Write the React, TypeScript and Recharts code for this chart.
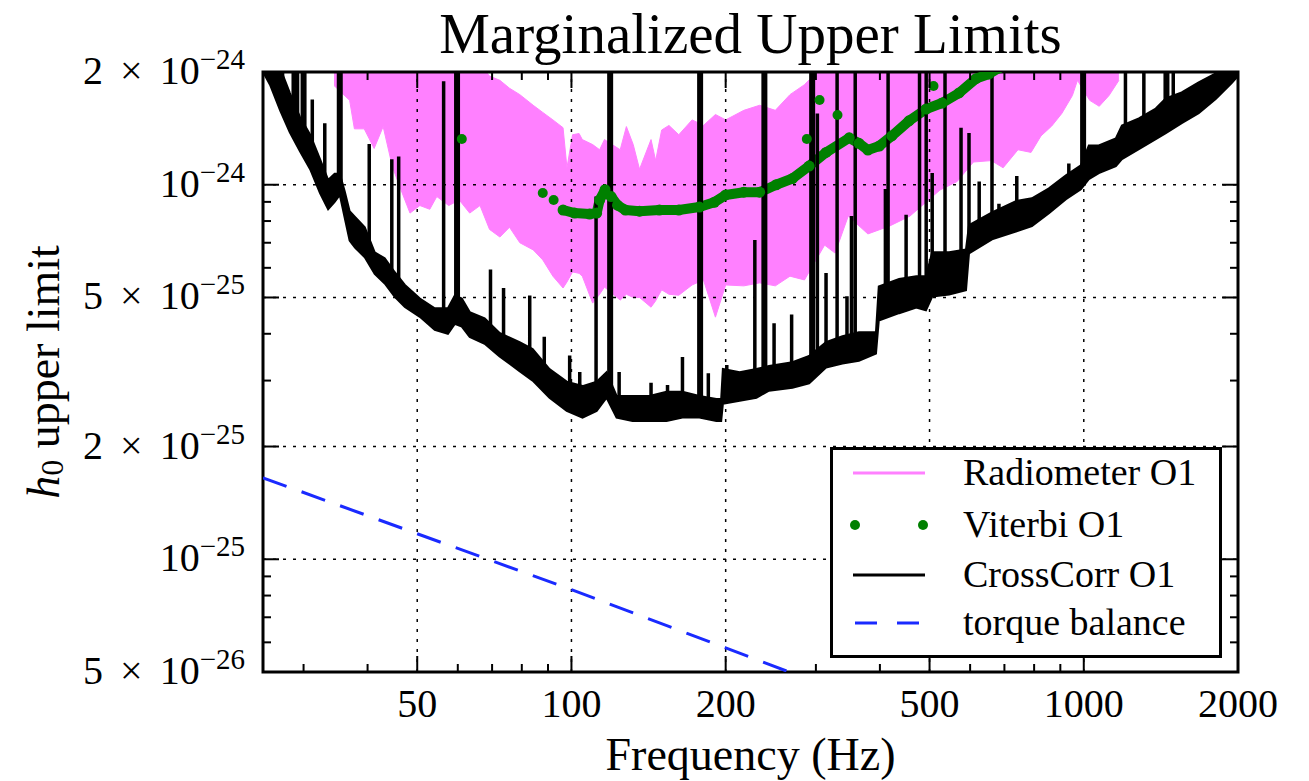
import {
  ComposedChart, Area, Line, Scatter, XAxis, YAxis, ReferenceLine, ReferenceArea, Legend,
} from 'recharts';

// frequency in Hz, strain in units of 1e-25

const xTicks = [30, 40, 50, 60, 70, 80, 90, 100, 200, 300, 400, 500, 600, 700, 800, 900, 1000, 2000];
const xMajor = [50, 100, 200, 500, 1000, 2000];
const yTicks = [0.5, 0.6, 0.7, 0.8, 0.9, 1, 2, 3, 4, 5, 6, 7, 8, 9, 10, 20];
const yLabels: Record<string, [string, string]> = {
  '0.5': ['5', '−26'],
  '1': ['', '−25'],
  '2': ['2', '−25'],
  '5': ['5', '−25'],
  '10': ['', '−24'],
  '20': ['2', '−24'],
};
const xGrid = [50, 100, 200, 500, 1000];
const yGrid = [1, 2, 5, 10];

// [f, low, high]
const radiometer: [number, number, number][] = [
  [34.4, 18.4, 21], [36.9, 16.8, 21], [37.7, 14.1, 21], [39.4, 14.1, 21], [41.2, 12.5, 21],
  [42.9, 14.3, 21], [44.7, 11.2, 21], [46.2, 9.9, 21], [48.4, 8.4, 21], [50.6, 8.8, 21],
  [52.9, 8.6, 21], [54.6, 9.3, 21], [57.6, 8.8, 21], [60.4, 9.1, 21], [63.3, 8.4, 21],
  [66.3, 8.8, 21], [69.2, 7.6, 19.5], [72.5, 7.25, 19.0], [75.7, 7.7, 18.1], [79.3, 7.0, 17.4],
  [84.2, 6.7, 16.3], [87.9, 6.3, 15.6], [92.0, 5.7, 14.9], [96.3, 5.3, 14.2], [98, 5.5, 11.1],
  [100.5, 5.85, 13.6], [103.5, 5.8, 13.7], [105, 5.7, 13.2], [110, 4.83, 12.8], [113.5, 5.1, 12.4],
  [116, 5.33, 13.2], [124.5, 4.92, 12.4], [128, 5.1, 14.3], [132, 5.0, 12.8], [135.8, 5.0, 11.0],
  [143, 4.71, 13.2], [146, 4.9, 11.6], [150, 5.24, 14.0], [155, 5.1, 14.4], [162, 5.07, 13.6],
  [172, 5.4, 14.9], [181, 5.57, 14.4], [191, 4.43, 15.4], [200, 5.4, 14.9], [217, 5.37, 15.8],
  [233, 5.47, 16.3], [250, 5.37, 15.8], [267, 5.7, 17.4], [285, 5.57, 18.5], [312, 6.9, 21],
  [327, 6.57, 21], [347, 8.25, 21], [379, 7.39, 21], [418, 7.76, 21], [458, 8.25, 21],
  [524, 9.68, 21], [566, 10.2, 21], [609, 11.5, 21], [660, 11.6, 21], [696, 11.1, 21],
  [744, 12.4, 21], [789, 12.2, 21], [825, 13.5, 21], [866, 14.35, 21], [906, 15.5, 21],
  [950, 17.3, 21], [972, 19.0, 21], [1027, 16.8, 21], [1072, 16.2, 21], [1120, 17.3, 21],
  [1171, 19.0, 21],
];

const crossBand: [number, number, number][] = [
  [25, 20, 22], [25.8, 18.5, 22], [27.0, 15.8, 20.5], [28.2, 13.8, 17.6], [29.5, 12.3, 15.2],
  [30.9, 11.0, 13.6], [32.3, 9.5, 11.7], [33.5, 8.6, 10.3], [34.5, 9.0, 10.7], [35.3, 9.4, 10.7],
  [36.1, 8.15, 9.6], [36.9, 7.1, 8.5], [37.8, 6.8, 8.2], [39.5, 6.4, 7.7], [41.3, 5.78, 6.6],
  [43.2, 5.45, 6.36], [45.2, 5.02, 5.84], [47.3, 4.72, 5.4], [50.6, 4.44, 4.97], [54.1, 4.1, 4.68],
  [57.4, 4.0, 4.68], [59.2, 4.25, 5.06], [61.1, 4.18, 4.97], [63.3, 3.92, 4.57], [67.7, 3.76, 4.4],
  [72.4, 3.48, 4.02], [79.2, 3.18, 3.8], [84.0, 3.0, 3.64], [90.6, 2.7, 3.22], [97.9, 2.49, 2.98],
  [105.1, 2.39, 2.9], [112, 2.49, 2.98], [117.1, 2.7, 3.16], [122.5, 2.39, 2.73], [131.6, 2.34, 2.73],
  [142, 2.34, 2.73], [153.3, 2.34, 2.8], [164.7, 2.39, 2.8], [177.7, 2.39, 2.73], [191.8, 2.34, 2.68],
  [196, 2.34, 2.68], [197.5, 2.6, 3.22], [213, 2.65, 3.16], [229.6, 2.7, 3.22], [243, 2.82, 3.28],
  [270, 2.87, 3.36], [291, 2.95, 3.49], [314, 3.25, 3.8], [338, 3.33, 3.94], [364, 3.39, 4.04],
  [393, 3.54, 4.04], [398, 4.34, 5.35], [436, 4.54, 5.6], [471, 4.7, 5.7], [492, 4.62, 5.7],
  [506, 5.03, 6.6], [546, 5.09, 6.6], [589, 5.23, 6.72], [597, 6.56, 7.8], [662, 7.15, 8.44],
  [737, 7.5, 9.04], [792, 7.75, 9.2], [855, 8.39, 9.78], [923, 9.15, 10.6], [987, 9.73, 11.26],
  [1023, 10.35, 12.73], [1070, 10.74, 12.73], [1155, 11.21, 13.3], [1187, 11.7, 14.4],
  [1281, 12.45, 15.03], [1382, 13.24, 15.98], [1446, 13.74, 17.0], [1553, 14.61, 17.64],
  [1676, 15.53, 18.75], [1809, 16.93, 19.82], [1944, 18.68, 20.6], [2000, 19.5, 21],
];

// narrow lines sticking out of the CrossCorr curve: [f, bottom, top]
const crossSpikes: [number, number, number][] = [
  [27.3, 16, 21], [29.2, 13.5, 21], [31.2, 12, 16.9], [33.0, 10, 14.6], [40.3, 6.5, 12.85],
  [44.6, 5.6, 11.7], [46.0, 5.3, 11.9], [56.3, 4.4, 18.9], [69.5, 4.1, 5.94], [73.7, 3.8, 5.3],
  [82.9, 3.4, 5.06], [88.5, 3.0, 3.93], [99.2, 2.75, 3.5], [103.8, 2.65, 3.16], [111.7, 2.7, 9.3],
  [123.9, 2.55, 3.16], [143, 2.55, 2.96], [154, 2.55, 2.92], [164.7, 2.55, 3.47], [185, 2.5, 3.14],
  [201, 2.9, 3.3], [228, 2.95, 7.12], [248.6, 3.05, 4.27], [269, 3.1, 4.5], [302, 3.3, 15.5],
  [314, 3.5, 5.81], [330, 3.6, 21], [345, 3.65, 5.04], [352, 3.7, 8.25], [358, 3.7, 21],
  [379, 3.75, 4.02], [410, 4.8, 9.74], [415, 4.9, 21], [450, 5.0, 8.32], [478, 5.1, 21],
  [492.5, 5.1, 21], [506, 5.8, 10.75], [536, 5.8, 21], [576, 5.9, 14.2], [597, 7.0, 13.75],
  [625, 7.3, 10.2], [662, 7.6, 21], [683, 7.7, 8.9], [740, 8.0, 10.55], [766, 8.2, 9.16],
  [935, 9.6, 11.4], [1206, 12.5, 21], [1310, 13.5, 21], [1495, 15.5, 21],
];
const crossSpikesThick: [number, number, number][] = [
  [28.8, 15, 21], [30.0, 13.5, 21], [35.3, 9.8, 21], [59.8, 4.6, 21], [119, 2.9, 21],
  [178.3, 2.55, 21], [238, 3.0, 21], [295, 3.2, 21], [997, 10.3, 21], [1450, 15, 21],
];

// [f, h0]
const viterbiTrack: [number, number][] = [
  [96.3, 8.56], [101.4, 8.4], [108.5, 8.35], [112, 8.4], [113.5, 9.1], [116.3, 9.7], [119.5, 9.3],
  [123, 8.82], [127.4, 8.56], [135.8, 8.5], [148.5, 8.56], [162, 8.56], [177.7, 8.72], [190, 8.98],
  [200, 9.39], [217, 9.55], [233, 9.55], [251, 10.0], [270, 10.39], [291, 11.22], [314, 12.2],
  [348.5, 13.34], [364, 12.9], [379, 12.38], [399, 12.69], [422, 13.5], [456, 14.81], [492.5, 15.93],
  [529, 16.53], [571, 17.58], [616, 19.2], [653, 19.76], [683, 20.5],
];
const viterbiDots: [number, number][] = [
  [61.1, 13.25], [87.9, 9.5], [92.3, 9.1], [288, 13.25], [305, 16.84], [330.6, 15.36], [509, 18.35],
];

const torque: [number, number][] = [[25, 1.65], [50, 1.17], [100, 0.83], [200, 0.58], [266, 0.5], [300, 0.47]];

const legendItems = [
  { name: 'Radiometer O1', kind: 'line', color: '#ff80ff' },
  { name: 'Viterbi O1', kind: 'dots', color: '#008000' },
  { name: 'CrossCorr O1', kind: 'line', color: '#000000' },
  { name: 'torque balance', kind: 'dash', color: '#1a2aff' },
];

const PLOT = { left: 263, top: 72, right: 1238, bottom: 672 };
const FONT = '"Liberation Serif", "Times New Roman", serif';

const bandRows = (rows: [number, number, number][]) => rows.map(([f, lo, hi]) => ({ f, band: [lo, hi] }));
const spikeRows = (rows: [number, number, number][]) =>
  rows.flatMap(([f, lo, hi]) => [{ f, v: lo }, { f, v: hi }, { f, v: null }]);
const pointRows = (rows: [number, number][]) => rows.map(([f, v]) => ({ f, v }));

function XTick(props: any) {
  const { x, payload } = props;
  const v = payload.value;
  const major = xMajor.includes(v);
  const len = major ? 16 : 8;
  return (
    <g>
      <line x1={x} x2={x} y1={PLOT.bottom} y2={PLOT.bottom - len} stroke="#000" strokeWidth={2} />
      <line x1={x} x2={x} y1={PLOT.top} y2={PLOT.top + len} stroke="#000" strokeWidth={2} />
      {major && (
        <text x={x} y={PLOT.bottom + 45} textAnchor="middle" fontFamily={FONT} fontSize={40} fill="#000">
          {v}
        </text>
      )}
    </g>
  );
}

function YTick(props: any) {
  const { y, payload } = props;
  const lab = yLabels[String(payload.value)];
  const len = lab ? 16 : 8;
  return (
    <g>
      <line x1={PLOT.left} x2={PLOT.left + len} y1={y} y2={y} stroke="#000" strokeWidth={2} />
      <line x1={PLOT.right} x2={PLOT.right - len} y1={y} y2={y} stroke="#000" strokeWidth={2} />
      {lab && (
        <text x={PLOT.left - 18} y={y + 12} textAnchor="end" fontFamily={FONT} fontSize={40} fill="#000">
          {lab[0] && <tspan>{lab[0]}</tspan>}
          {lab[0] && <tspan dx={17}>×</tspan>}
          <tspan dx={lab[0] ? 17 : 0}>10</tspan>
          <tspan dy={-15} fontSize={29}>{lab[1]}</tspan>
        </text>
      )}
    </g>
  );
}

const renderXLabel = () => (
  <text x={(PLOT.left + PLOT.right) / 2} y={770} textAnchor="middle" fontFamily={FONT} fontSize={46} fill="#000">
    Frequency (Hz)
  </text>
);

const renderYLabel = () => {
  const cx = 43;
  const cy = (PLOT.top + PLOT.bottom) / 2;
  return (
    <text x={cx} y={cy} transform={`rotate(-90 ${cx} ${cy})`} textAnchor="middle" dominantBaseline="central"
      fontFamily={FONT} fontSize={46} fill="#000">
      <tspan fontStyle="italic">h</tspan>
      <tspan dy={9} fontSize={32}>0</tspan>
      <tspan dy={-9}>{' upper limit'}</tspan>
    </text>
  );
};

const renderTitle = () => (
  <text x={(PLOT.left + PLOT.right) / 2} y={53} textAnchor="middle" fontFamily={FONT} fontSize={57} fill="#000">
    Marginalized Upper Limits
  </text>
);

const legendRows = [26, 78, 128, 176];

const renderLegend = () => (
  <svg width={392} height={211} style={{ display: 'block' }}>
    <rect x={1.5} y={1.5} width={389} height={208} fill="#fff" stroke="#000" strokeWidth={3} />
    {legendItems.map((it, i) => {
      const cy = legendRows[i];
      return (
        <g key={it.name}>
          {it.kind === 'line' && <line x1={23} x2={95} y1={cy} y2={cy} stroke={it.color} strokeWidth={3} />}
          {it.kind === 'dash' && (
            <line x1={25} x2={89} y1={cy} y2={cy} stroke={it.color} strokeWidth={3} strokeDasharray="22 20" />
          )}
          {it.kind === 'dots' && (
            <>
              <circle cx={25} cy={cy} r={5} fill={it.color} />
              <circle cx={93} cy={cy} r={5} fill={it.color} />
            </>
          )}
          <text x={133} y={cy + 12} fontFamily={FONT} fontSize={38} fill="#000">{it.name}</text>
        </g>
      );
    })}
  </svg>
);

const greenDot = (p: any) => <circle cx={p.cx} cy={p.cy} r={5} fill="#008000" />;

export default function App() {
  return (
    <div style={{ position: 'absolute', left: 0, top: 0, width: 1309, height: 781, background: '#fff' }}>
      <ComposedChart width={1309} height={781} margin={{ top: PLOT.top, right: 1309 - PLOT.right, bottom: 0, left: 0 }}>
        <XAxis dataKey="f" type="number" scale="log" domain={[25, 2000]} allowDataOverflow ticks={xTicks}
          interval={0} tick={(p: any) => <XTick {...p} />} tickLine={false} axisLine={false}
          tickSize={0} tickMargin={0} height={781 - PLOT.bottom} label={renderXLabel} />
        <YAxis type="number" scale="log" domain={[0.5, 20]} allowDataOverflow ticks={yTicks}
          interval={0} tick={(p: any) => <YTick {...p} />} tickLine={false} axisLine={false}
          tickSize={0} tickMargin={0} width={PLOT.left} label={renderYLabel} />

        <Area data={bandRows(radiometer)} dataKey="band" type="linear" fill="#ff80ff" fillOpacity={1}
          stroke="#ff80ff" strokeWidth={1} dot={false} activeDot={false} isAnimationActive={false} />

        {xGrid.map((v) => (
          <ReferenceLine key={'gx' + v} x={v} stroke="#000" strokeWidth={1.5} strokeDasharray="3 7" />
        ))}
        {yGrid.map((v) => (
          <ReferenceLine key={'gy' + v} y={v} stroke="#000" strokeWidth={1.5} strokeDasharray="3 7" />
        ))}

        <Line data={pointRows(viterbiTrack)} dataKey="v" type="linear" stroke="#008000" strokeWidth={10}
          strokeLinecap="round" strokeLinejoin="round"
          dot={{ r: 5.5, fill: '#008000', stroke: 'none' }} activeDot={false} isAnimationActive={false} />
        <Scatter data={pointRows(viterbiDots)} dataKey="v" fill="#008000" shape={greenDot} isAnimationActive={false} />

        <Area data={bandRows(crossBand)} dataKey="band" type="linear" fill="#000" fillOpacity={1}
          stroke="#000" strokeWidth={2} dot={false} activeDot={false} isAnimationActive={false} />
        <Line data={spikeRows(crossSpikes)} dataKey="v" type="linear" stroke="#000" strokeWidth={3.5}
          connectNulls={false} dot={false} activeDot={false} isAnimationActive={false} />
        <Line data={spikeRows(crossSpikesThick)} dataKey="v" type="linear" stroke="#000" strokeWidth={6}
          connectNulls={false} dot={false} activeDot={false} isAnimationActive={false} />

        <Line data={pointRows(torque)} dataKey="v" type="linear" stroke="#1a2aff" strokeWidth={3}
          strokeDasharray="25 16" dot={false} activeDot={false} isAnimationActive={false} />

        <ReferenceArea x1={25} x2={2000} y1={0.5} y2={20} fill="none" stroke="#000" strokeWidth={3}
          label={renderTitle} />

        <Legend layout="vertical" align="center" verticalAlign="middle" content={renderLegend}
          wrapperStyle={{ position: 'absolute', left: 830, top: 447, width: 392, height: 211, margin: 0, padding: 0 }} />
      </ComposedChart>
    </div>
  );
}
